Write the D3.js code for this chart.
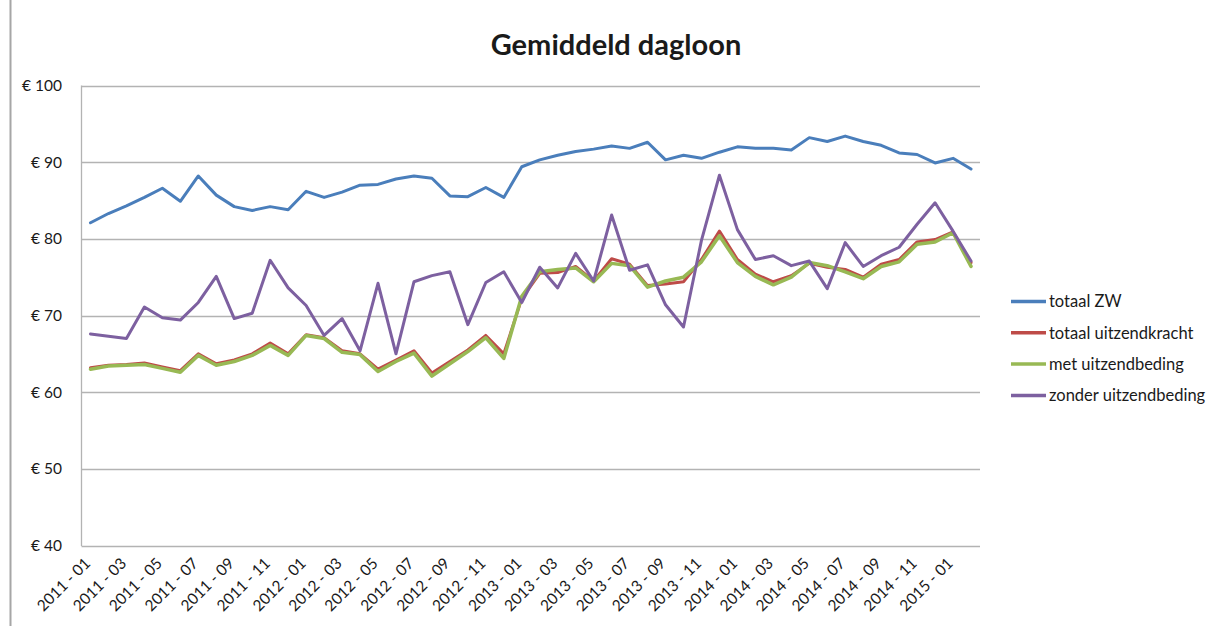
<!DOCTYPE html>
<html>
<head>
<meta charset="utf-8">
<script src="https://cdn.jsdelivr.net/npm/d3@7"></script>
<style>
  html, body { margin: 0; padding: 0; background: #fff; }
  svg { display: block; }
  text { font-family: Lato, "Liberation Sans", sans-serif; fill: #1a1a1a; }
</style>
</head>
<body>
<svg id="chart" width="1207" height="626"></svg>
<script>
const months = [
  "2011 - 01","2011 - 02","2011 - 03","2011 - 04","2011 - 05","2011 - 06","2011 - 07","2011 - 08","2011 - 09","2011 - 10","2011 - 11","2011 - 12",
  "2012 - 01","2012 - 02","2012 - 03","2012 - 04","2012 - 05","2012 - 06","2012 - 07","2012 - 08","2012 - 09","2012 - 10","2012 - 11","2012 - 12",
  "2013 - 01","2013 - 02","2013 - 03","2013 - 04","2013 - 05","2013 - 06","2013 - 07","2013 - 08","2013 - 09","2013 - 10","2013 - 11","2013 - 12",
  "2014 - 01","2014 - 02","2014 - 03","2014 - 04","2014 - 05","2014 - 06","2014 - 07","2014 - 08","2014 - 09","2014 - 10","2014 - 11","2014 - 12",
  "2015 - 01","2015 - 02"
];
const totaalZW = [
  82.1, 83.3, 84.3, 85.4, 86.6, 84.9, 88.2, 85.7, 84.2, 83.7, 84.2, 83.8,
  86.2, 85.4, 86.1, 87.0, 87.1, 87.8, 88.2, 87.9, 85.6, 85.5, 86.7, 85.4,
  89.4, 90.3, 90.9, 91.4, 91.7, 92.1, 91.8, 92.6, 90.3, 90.9, 90.5, 91.3,
  92.0, 91.8, 91.8, 91.6, 93.2, 92.7, 93.4, 92.7, 92.2, 91.2, 91.0, 89.9,
  90.5, 89.1
];
const totaalUitzendkracht = [
  63.2, 63.5, 63.6, 63.8, 63.3, 62.8, 65.0, 63.7, 64.2, 65.0, 66.4, 65.0,
  67.5, 67.1, 65.4, 65.0, 63.0, 64.2, 65.4, 62.5, 64.0, 65.5, 67.4, 65.0,
  72.2, 75.5, 75.6, 76.4, 74.5, 77.4, 76.7, 73.9, 74.1, 74.4, 77.3, 81.0,
  77.3, 75.4, 74.4, 75.2, 76.8, 76.3, 76.0, 75.0, 76.7, 77.3, 79.6, 79.9,
  80.9, 76.9
];
const metUitzendbeding = [
  63.0, 63.4, 63.5, 63.6, 63.1, 62.6, 64.8, 63.5, 64.0, 64.8, 66.1, 64.8,
  67.4, 67.0, 65.2, 64.9, 62.7, 64.0, 65.1, 62.1, 63.7, 65.3, 67.1, 64.4,
  72.5, 75.7, 76.0, 76.2, 74.4, 76.8, 76.5, 73.7, 74.5, 75.0, 77.0, 80.4,
  76.9, 75.1, 74.0, 75.0, 76.9, 76.5, 75.7, 74.8, 76.4, 77.0, 79.3, 79.6,
  80.8, 76.4
];
const zonderUitzendbeding = [
  67.6, 67.3, 67.0, 71.1, 69.7, 69.4, 71.7, 75.1, 69.6, 70.3, 77.2, 73.6,
  71.3, 67.4, 69.6, 65.4, 74.2, 65.0, 74.4, 75.2, 75.7, 68.8, 74.3, 75.7,
  71.7, 76.3, 73.6, 78.1, 74.5, 83.1, 75.9, 76.6, 71.4, 68.5, 79.8, 88.3,
  81.2, 77.3, 77.8, 76.5, 77.1, 73.5, 79.5, 76.4, 77.8, 78.9, 81.9, 84.7,
  81.0, 77.1
];
const yTicks = [40, 50, 60, 70, 80, 90, 100];
const seriesNames = ["totaal ZW", "totaal uitzendkracht", "met uitzendbeding", "zonder uitzendbeding"];
const seriesColors = ["#4A7EBB", "#BE4B48", "#98B954", "#7D60A0"];
const seriesData = [totaalZW, totaalUitzendkracht, metUitzendbeding, zonderUitzendbeding];

const svg = d3.select("#chart");
const plotLeft = 81.5, plotRight = 980, plotTop = 85.5, plotBottom = 545.5;

// outer frame line on the left
svg.append("line").attr("x1", 10.5).attr("x2", 10.5).attr("y1", 0).attr("y2", 626)
  .attr("stroke", "#a6a6a6").attr("stroke-width", 2);

const x = d3.scalePoint().domain(months).range([plotLeft, plotRight]).padding(0.5);
const y = d3.scaleLinear().domain([40, 100]).range([plotBottom, plotTop]);

// title
svg.append("text").attr("x", 616).attr("y", 55).attr("text-anchor", "middle")
  .style("font-size", "29px").style("font-weight", "bold").text("Gemiddeld dagloon");

// gridlines
svg.append("g").selectAll("line").data(yTicks).join("line")
  .attr("x1", plotLeft).attr("x2", plotRight)
  .attr("y1", d => Math.round(y(d)) + 0.5).attr("y2", d => Math.round(y(d)) + 0.5)
  .attr("stroke", "#b3b3b3").attr("stroke-width", 1.3);
svg.append("line").attr("x1", plotLeft).attr("x2", plotLeft).attr("y1", plotTop).attr("y2", plotBottom + 0.5)
  .attr("stroke", "#b3b3b3").attr("stroke-width", 1.3);

// y labels
svg.append("g").selectAll("text").data(yTicks).join("text")
  .attr("x", 62).attr("y", d => y(d)).attr("dy", "0.35em").attr("text-anchor", "end")
  .style("font-size", "15.5px").text(d => "€ " + d);

// x labels
const xLabels = months.filter((m, i) => i % 2 === 0);
svg.append("g").selectAll("text").data(xLabels).join("text")
  .attr("transform", d => `translate(${x(d) - 3},${plotBottom + 15}) rotate(-45)`)
  .attr("text-anchor", "end").attr("dy", "0.35em")
  .style("font-size", "15.5px").text(d => d);

// lines
const line = d3.line().x((d, i) => x(months[i])).y(d => y(d));
seriesData.forEach((s, k) => {
  svg.append("path").datum(s).attr("d", line)
    .attr("fill", "none").attr("stroke", seriesColors[k])
    .attr("stroke-width", k === 2 ? 3.5 : 3).attr("stroke-linejoin", "round")
    .attr("stroke-linecap", "round");
});

// legend
const lg = svg.append("g");
seriesNames.forEach((n, k) => {
  const ly = 301.5 + k * 31.3;
  lg.append("line").attr("x1", 1011).attr("x2", 1046).attr("y1", ly).attr("y2", ly)
    .attr("stroke", seriesColors[k]).attr("stroke-width", 3.5);
  lg.append("text").attr("x", 1049).attr("y", ly).attr("dy", "0.35em")
    .style("font-size", "16.5px").text(n);
});
</script>
</body>
</html>
